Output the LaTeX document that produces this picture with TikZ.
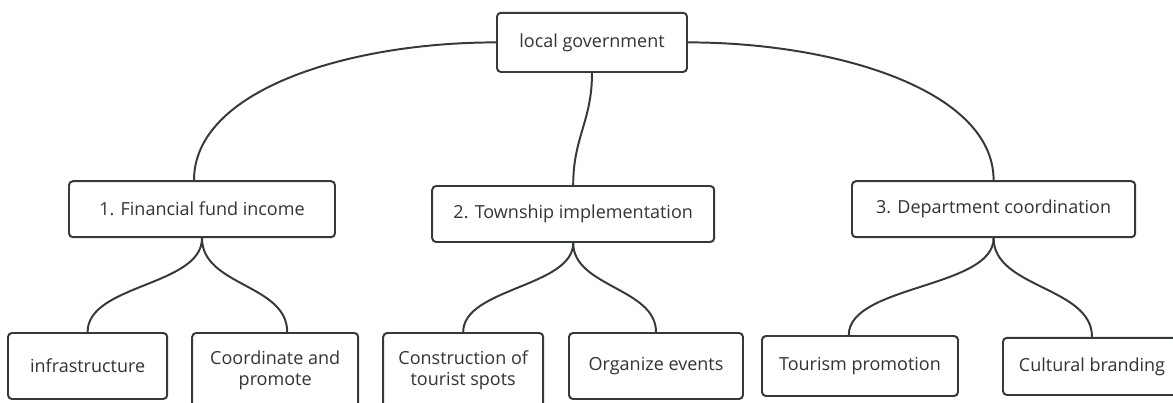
\documentclass[tikz,border=0pt]{standalone}
\usepackage{fontspec}
\setmainfont{Open Sans}
\usepackage{tikz}
\usetikzlibrary{calc}
\usetikzlibrary{positioning}
\usepackage{color}
\definecolor{slate}{RGB}{52, 57, 62}
\definecolor{ink}{RGB}{51, 51, 51}
\tikzset{
    mapbox/.style={draw=slate, line width=1.4pt, rounded corners=2.8pt, fill=white,
                   text=ink, align=center, inner sep=0pt,
                   font=\fontsize{12.8pt}{15pt}\selectfont},
    branch/.style={draw=slate, line width=1.4pt}
}
\begin{document}
\begin{tikzpicture}
            % Frame to ensure alignment:
            \useasboundingbox (0.00, 0.00) rectangle (29.325, -10.075);
            % Root
            \node[mapbox, minimum width=4.75cm, minimum height=1.48cm] (gov)    at (14.80, -1.06) {local government};
            % Middle level
            \node[mapbox, minimum width=6.65cm, minimum height=1.40cm] (fin)    at ( 5.05, -5.23) {1. Financial fund income};
            \node[mapbox, minimum width=7.05cm, minimum height=1.40cm] (town)   at (14.33, -5.35) {2. Township implementation};
            \node[mapbox, minimum width=7.08cm, minimum height=1.40cm] (dept)   at (24.84, -5.23) {3. Department coordination};
            % Leaves
            \node[mapbox, minimum width=3.98cm, minimum height=1.65cm] (infra)  at ( 2.19, -9.15) {infrastructure};
            \node[mapbox, minimum width=4.15cm, minimum height=1.85cm] (coord)  at ( 6.88, -9.25) {Coordinate and\\promote};
            \node[mapbox, minimum width=4.00cm, minimum height=1.85cm] (constr) at (11.58, -9.25) {Construction of\\tourist spots};
            \node[mapbox, minimum width=4.35cm, minimum height=1.65cm] (events) at (16.40, -9.15) {Organize events};
            \node[mapbox, minimum width=4.90cm, minimum height=1.50cm] (promo)  at (21.50, -9.15) {Tourism promotion};
            \node[mapbox, minimum width=4.45cm, minimum height=1.43cm] (brand)  at (27.30, -9.16) {Cultural branding};
            % Root branches
            \draw[branch] (gov.west)  .. controls +(-3.70, 0.00) and +(0.00, 2.25) .. ($(fin.north)+(-0.20, 0.00)$);
            \draw[branch] (gov.south) .. controls +( 0.00,-1.20) and +(0.00, 1.20) .. (town.north);
            \draw[branch] (gov.east)  .. controls +( 3.70, 0.00) and +(0.00, 2.25) .. (dept.north);
            % Leaf branches
            \draw[branch] (fin.south)  .. controls +(0.00,-1.20) and +(0.00, 1.20) .. (infra.north);
            \draw[branch] (fin.south)  .. controls +(0.00,-1.20) and +(0.00, 1.20) .. ($(coord.north)+( 0.30, 0.00)$);
            \draw[branch] (town.south) .. controls +(0.00,-1.10) and +(0.00, 1.10) .. (constr.north);
            \draw[branch] (town.south) .. controls +(0.00,-1.10) and +(0.00, 1.10) .. (events.north);
            \draw[branch] (dept.south) .. controls +(0.00,-1.25) and +(0.00, 1.25) .. ($(promo.north)+(-0.28, 0.00)$);
            \draw[branch] (dept.south) .. controls +(0.00,-1.25) and +(0.00, 1.25) .. (brand.north);
\end{tikzpicture}
\end{document}
